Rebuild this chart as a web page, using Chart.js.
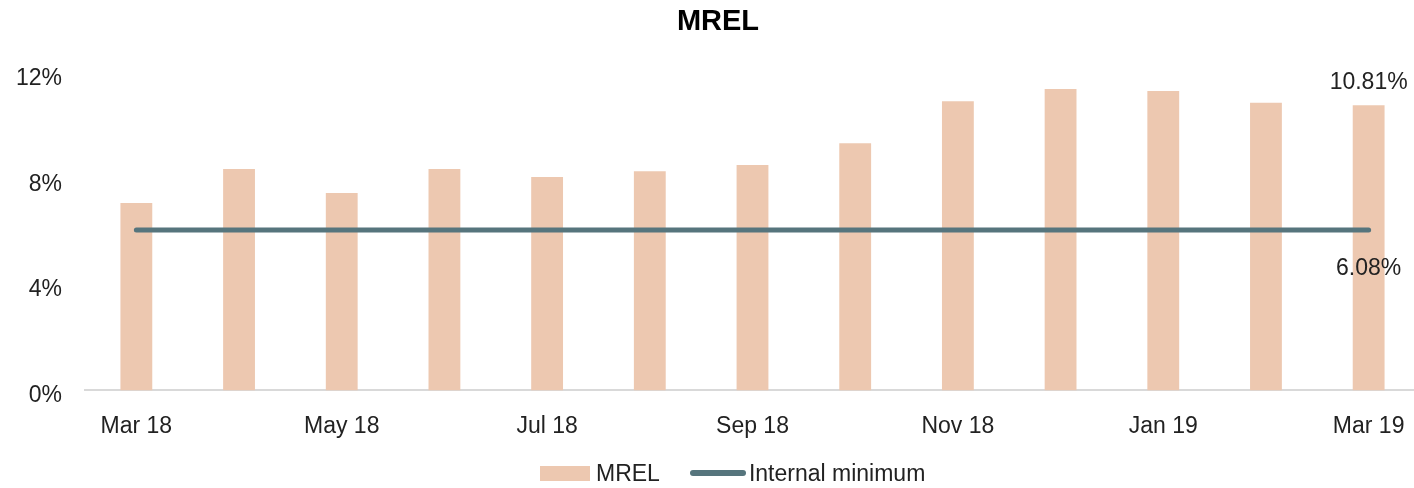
<!DOCTYPE html>
<html>
<head>
<meta charset="utf-8">
<title>MREL</title>
<script src="https://cdn.jsdelivr.net/npm/chart.js@4/dist/chart.umd.min.js"></script>
<style>
    html, body { margin: 0; padding: 0; background: #fff; overflow: hidden; }
    .mrel-chart { position: relative; width: 1414px; height: 488px; overflow: hidden; }
    .mrel-chart__canvas { position: absolute; left: 0; top: 0; width: 1460px; height: 488px; }
    .mrel-legend {
        position: absolute; left: 540px; top: 458px; height: 30px;
        display: flex; align-items: center;
        font-family: "Liberation Sans", Arial, sans-serif; font-size: 23px; color: #222;
    }
    .mrel-legend__box { width: 50px; height: 15px; background: #edc8b0; margin-right: 6px; }
    .mrel-legend__line { width: 56px; height: 6px; border-radius: 3px; background: #56757d; margin-left: 30px; margin-right: 3px; }
</style>
</head>
<body>
<div class="mrel-chart">
    <div class="mrel-chart__canvas"><canvas id="mrelChart" width="1460" height="488"></canvas></div>
    <div class="mrel-legend">
        <span class="mrel-legend__box"></span><span>MREL</span>
        <span class="mrel-legend__line"></span><span>Internal minimum</span>
    </div>
</div>
<script>
(function () {
    'use strict';

    var months = ['Mar 18', 'Apr 18', 'May 18', 'Jun 18', 'Jul 18', 'Aug 18', 'Sep 18',
        'Oct 18', 'Nov 18', 'Dec 18', 'Jan 19', 'Feb 19', 'Mar 19'];
    var mrel = [7.10, 8.39, 7.48, 8.39, 8.09, 8.31, 8.54, 9.37, 10.96, 11.42, 11.35, 10.90, 10.81];
    var internalMinimum = [6.08, 6.08, 6.08, 6.08, 6.08, 6.08, 6.08, 6.08, 6.08, 6.08, 6.08, 6.08, 6.08];
    var yTicks = [0, 4, 8, 12];

    var FONT = '"Liberation Sans", Arial, sans-serif';
    var TEXT = '#222';

    // last-month values written next to the bar and the line
    var endLabels = {
        id: 'endLabels',
        afterDatasetsDraw: function (chart) {
            var ctx = chart.ctx;
            var bar = chart.getDatasetMeta(0).data[mrel.length - 1];
            var pt = chart.getDatasetMeta(1).data[internalMinimum.length - 1];
            ctx.save();
            ctx.font = '23px ' + FONT;
            ctx.fillStyle = TEXT;
            ctx.textAlign = 'center';
            ctx.textBaseline = 'middle';
            ctx.fillText(mrel[mrel.length - 1].toFixed(2) + '%', bar.x, bar.y - 23);
            ctx.fillText(internalMinimum[internalMinimum.length - 1].toFixed(2) + '%', pt.x, pt.y + 39);
            ctx.restore();
        }
    };

    new Chart(document.getElementById('mrelChart'), {
        data: {
            labels: months,
            datasets: [
                {
                    type: 'bar',
                    label: 'MREL',
                    data: mrel,
                    backgroundColor: '#edc8b0',
                    borderWidth: 0,
                    categoryPercentage: 1,
                    barPercentage: 0.31,
                    order: 2
                },
                {
                    type: 'line',
                    label: 'Internal minimum',
                    data: internalMinimum,
                    borderColor: '#56757d',
                    borderWidth: 5,
                    borderCapStyle: 'round',
                    pointRadius: 0,
                    fill: false,
                    order: 1
                }
            ]
        },
        options: {
            responsive: false,
            animation: false,
            layout: { padding: { left: 16, right: 40, top: 0, bottom: 26 } },
            plugins: {
                legend: { display: false },
                tooltip: { enabled: false },
                title: {
                    display: true,
                    text: 'MREL',
                    color: '#000',
                    font: { family: FONT, size: 29, weight: 'bold' },
                    padding: { top: 5, bottom: 34 }
                }
            },
            scales: {
                x: {
                    grid: { display: false, drawTicks: false },
                    border: { display: true, color: '#d9d9d9', width: 2 },
                    ticks: {
                        autoSkip: false,
                        maxRotation: 0,
                        padding: 22,
                        color: TEXT,
                        font: { family: FONT, size: 23 },
                        callback: function (value, index) {
                            return index % 2 === 0 ? months[index] : '';
                        }
                    }
                },
                y: {
                    min: yTicks[0],
                    max: yTicks[yTicks.length - 1],
                    afterBuildTicks: function (axis) {
                        axis.ticks = yTicks.map(function (v) { return { value: v }; });
                    },
                    afterFit: function (axis) {
                        axis.width = 69;
                    },
                    grid: { display: false, drawTicks: false },
                    border: { display: false },
                    ticks: {
                        padding: 23,
                        labelOffset: 5,
                        color: TEXT,
                        font: { family: FONT, size: 23 },
                        callback: function (value) { return value + '%'; }
                    }
                }
            }
        },
        plugins: [endLabels]
    });
})();
</script>
</body>
</html>
